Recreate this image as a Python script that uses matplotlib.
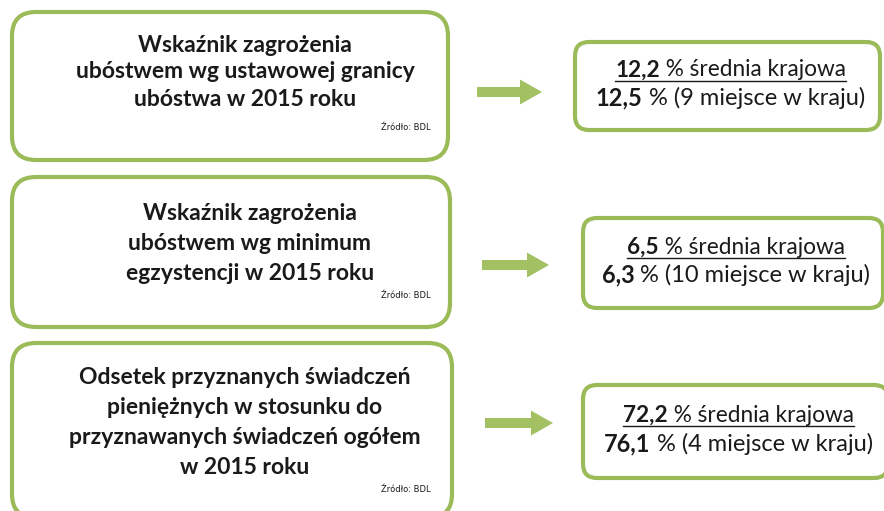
import matplotlib
matplotlib.use("Agg")
import matplotlib.pyplot as plt
from matplotlib.patches import FancyBboxPatch, FancyArrow

# --- data ---
titles = [
    "Wskaźnik zagrożenia\nubóstwem wg ustawowej granicy\nubóstwa w 2015 roku",
    "Wskaźnik zagrożenia\nubóstwem wg minimum\negzystencji w 2015 roku",
    "Odsetek przyznanych świadczeń\npieniężnych w stosunku do\nprzyznawanych świadczeń ogółem\nw 2015 roku",
]
source = "Źródło: BDL"
national = ["12,2", "6,5", "72,2"]
local = ["12,5", "6,3", "76,1"]
rank = [9, 10, 4]

GREEN = "#9bbb59"
TXT = "#1a1a1a"
FONT = ["Lato", "DejaVu Sans"]

fig = plt.figure(figsize=(8.84, 5.11), dpi=100)
ax = fig.add_axes([0, 0, 1, 1])
ax.set_xlim(0, 884)
ax.set_ylim(511, 0)
ax.axis("off")
renderer = fig.canvas.get_renderer()

# layout (pixels)
left_boxes = [(12, 12, 436, 148), (12, 177, 438, 150), (12, 343, 440, 175)]
right_boxes = [(575, 42, 305, 88), (583, 218, 300, 90), (583, 385, 305, 93)]
arrows = [(477, 92, 65), (482, 265, 67), (485, 423, 68)]
title_cx = [245, 250, 245]
title_y0 = [45, 213, 377]
line_h = [27, 30, 30]
src_y = [127, 296, 490]


def centered_runs(cx, cy, runs, size, underline=False):
    texts = []
    for s, bold in runs:
        t = ax.text(0, cy, s, fontsize=size, family=FONT, color=TXT,
                    fontweight="bold" if bold else "normal",
                    ha="left", va="center")
        texts.append(t)
    widths = [t.get_window_extent(renderer).width for t in texts]
    total = sum(widths)
    x = cx - total / 2
    for t, w in zip(texts, widths):
        t.set_x(x)
        x += w
    if underline:
        ax.plot([cx - total / 2, cx + total / 2], [cy + 11, cy + 11],
                color=TXT, lw=1)


for i in range(3):
    x, y, w, h = left_boxes[i]
    ax.add_patch(FancyBboxPatch((x, y), w, h,
                                boxstyle="round,pad=0,rounding_size=24",
                                fc="white", ec=GREEN, lw=3))
    for j, line in enumerate(titles[i].split("\n")):
        ax.text(title_cx[i], title_y0[i] + j * line_h[i], line,
                fontsize=16.5, fontweight="bold", family=FONT, color=TXT,
                ha="center", va="center")
    ax.text(431, src_y[i], source, fontsize=6, family="DejaVu Sans",
            color=TXT, ha="right", va="center")

    ax0, ay, alen = arrows[i]
    ax.add_patch(FancyArrow(ax0, ay, alen, 0, width=10, head_width=25,
                            head_length=22, length_includes_head=True,
                            fc="#a3c162", ec="none"))

    rx, ry, rw, rh = right_boxes[i]
    ax.add_patch(FancyBboxPatch((rx, ry), rw, rh,
                                boxstyle="round,pad=0,rounding_size=14",
                                fc="white", ec=GREEN, lw=3))
    cx = rx + rw / 2 + 3
    cy = ry + rh / 2
    centered_runs(cx, cy - 16, [(national[i], True), (" % średnia krajowa", False)],
                  16.3, underline=True)
    centered_runs(cx, cy + 12, [(local[i], True),
                                (" %% (%d miejsce w kraju)" % rank[i], False)], 17)

fig.savefig("out.png", dpi=100, facecolor="white")
